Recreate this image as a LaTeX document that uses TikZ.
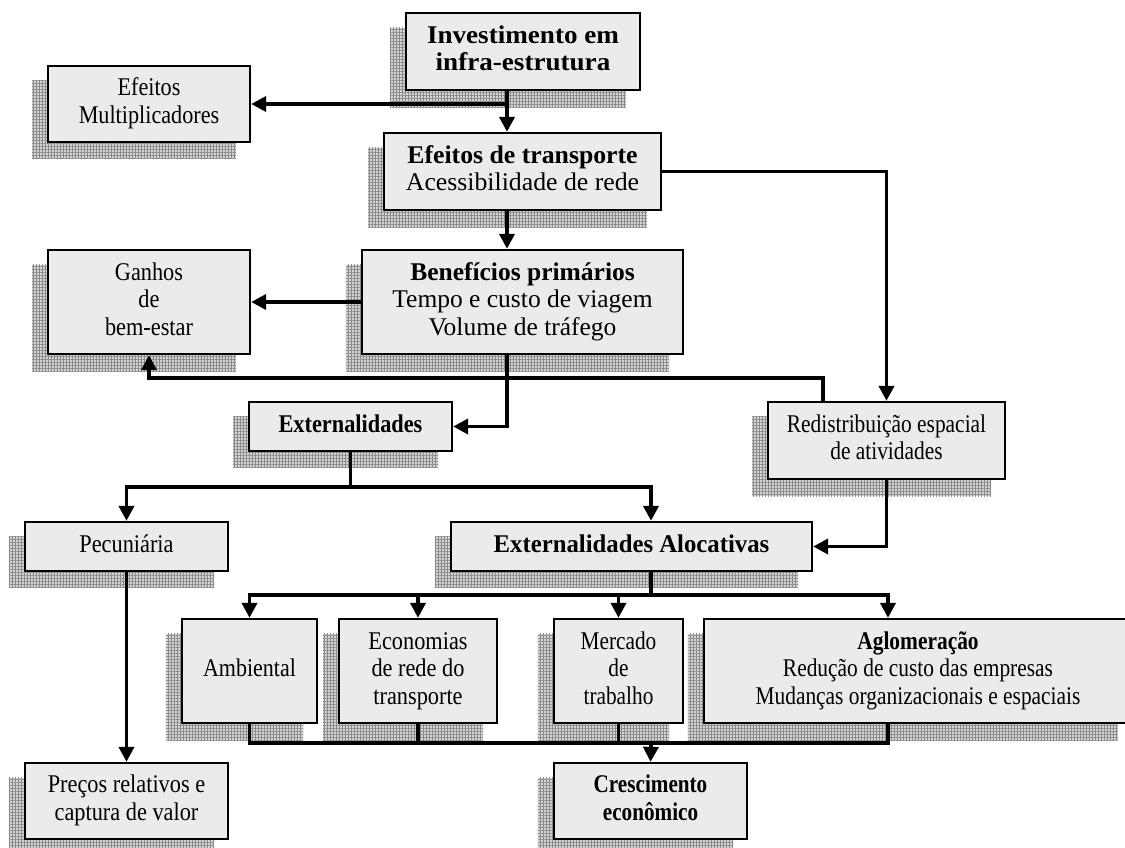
\documentclass[tikz,border=0pt]{standalone}
\usepackage{fontspec}
\setmainfont{Liberation Serif}
\usepackage{graphicx}
\usetikzlibrary{arrows.meta,backgrounds,calc,patterns.meta}
\definecolor{boxfill}{HTML}{EBEBEB}
\definecolor{shadowbase}{HTML}{D4D4D4}
\definecolor{shadowgrid}{HTML}{8A8A8A}
\newcommand{\bx}[2]{\scalebox{#1}[1]{\begin{tabular}{@{}c@{}}#2\end{tabular}}}
\begin{document}
\begin{tikzpicture}[x=1pt,y=-1pt,
  box/.style={draw, line width=2.3pt, fill=boxfill, inner sep=0pt},
  shadowbox/.style={fill=shadowbase, postaction={pattern={Hatch[angle=0,distance=3pt,line width=0.9pt]}, pattern color=shadowgrid}},
  conn/.style={line width=3.8pt, line join=miter},
  arr/.style={conn, -{Triangle[length=15pt,width=15pt]}},
  font=\fontsize{25.5}{27.5}\selectfont]
\clip (0,0) rectangle (1125,848);
% boxes
\node[box, minimum width=234pt, minimum height=77pt] (inv) at (523,51.5)
  {\bx{1.063}{\textbf{Investimento em}\\\textbf{infra-estrutura}}};
\node[box, minimum width=202pt, minimum height=76pt] (mult) at (149,104)
  {\bx{0.87}{Efeitos\\Multiplicadores}};
\node[box, minimum width=277pt, minimum height=77pt] (trans) at (522.5,171.5)
  {\bx{1.01}{\textbf{Efeitos de transporte}\\Acessibilidade de rede}};
\node[box, minimum width=321pt, minimum height=104pt] (ben) at (522.5,302)
  {\bx{1.0}{\textbf{Benefícios primários}\\Tempo e custo de viagem\\Volume de tráfego}};
\node[box, minimum width=202pt, minimum height=104pt] (gan) at (149,302)
  {\bx{0.875}{Ganhos\\de\\bem-estar}};
\node[box, minimum width=237pt, minimum height=77pt] (red) at (886.5,440.5)
  {\bx{0.84}{Redistribuição espacial\\de atividades}};
\node[box, minimum width=203pt, minimum height=49pt] (ext) at (350.5,426.5)
  {\bx{0.875}{\textbf{Externalidades}}};
\node[box, minimum width=203pt, minimum height=49pt] (pec) at (126.5,546.5)
  {\bx{0.875}{Pecuniária}};
\node[box, minimum width=361pt, minimum height=49pt] (aloc) at (631.5,546.5)
  {\bx{0.97}{\textbf{Externalidades Alocativas}}};
\node[box, minimum width=203pt, minimum height=76pt] (pre) at (126.5,801)
  {\bx{0.875}{Preços relativos e\\captura de valor}};
\node[box, minimum width=135pt, minimum height=104pt] (amb) at (249.5,671)
  {\bx{0.863}{Ambiental}};
\node[box, minimum width=158pt, minimum height=104pt] (eco) at (418,671)
  {\bx{0.875}{Economias\\de rede do\\transporte}};
\node[box, minimum width=129pt, minimum height=104pt] (mer) at (618.5,671)
  {\bx{0.835}{Mercado\\de\\trabalho}};
\node[box, minimum width=428pt, minimum height=104pt] (agl) at (918,671)
  {\bx{0.84}{\textbf{Aglomeração}\\Redução de custo das empresas\\Mudanças organizacionais e espaciais}\hspace{62pt}};
\node[box, minimum width=193pt, minimum height=76pt] (cre) at (650.5,801)
  {\bx{0.83}{\textbf{Crescimento}\\\textbf{econômico}}};
% shadows
\begin{scope}[on background layer]
\foreach \n in {inv,mult,trans,ben,gan,red,ext,pec,aloc,pre,amb,eco,mer,agl,cre}{
  \path[shadowbox] ($(\n.south west)+(-15,16)$) rectangle ($(\n.north east)+(-15,16)$);
}
\end{scope}
% helper coordinates
\coordinate (c507) at (507,0);
\coordinate (c651) at (651,0);
\coordinate (c888) at (888,0);
\coordinate (r1) at (823,378);
\coordinate (j1) at (350.5,487);
\coordinate (b1) at (651,595);
\coordinate (b2) at (651,743);
% connectors
\draw[arr] (c507 |- inv.south) -- (c507 |- trans.north);
\draw[arr] (c507 |- mult.east) -- (mult.east);
\draw[arr] (c507 |- trans.south) -- (c507 |- ben.north);
\draw[arr] (trans.east) -| (red.north);
\draw[arr] (r1 |- red.north) -- (r1) -| (gan.south);
\draw[arr] (ben.west) -- (gan.east);
\draw[arr] (c507 |- ben.south) |- (ext.east);
\draw[conn] (ext.south) -- (j1);
\draw[arr] (j1) -| (pec.north);
\draw[arr] (j1) -| (c651 |- aloc.north);
\draw[arr] (red.south) |- (aloc.east);
\draw[arr] (pec.south) -- (pre.north);
\draw[conn] (c651 |- aloc.south) -- (b1);
\draw[arr] (b1) -| (amb.north);
\draw[arr] (b1) -| (eco.north);
\draw[arr] (b1) -| (mer.north);
\draw[arr] (b1) -| (c888 |- agl.north);
\draw[conn] (amb.south) |- (b2);
\draw[conn] (eco.south) |- (b2);
\draw[conn] (mer.south) |- (b2);
\draw[conn] (c888 |- agl.south) |- (b2);
\draw[arr] (b2) -- (cre.north);
\end{tikzpicture}
\end{document}
